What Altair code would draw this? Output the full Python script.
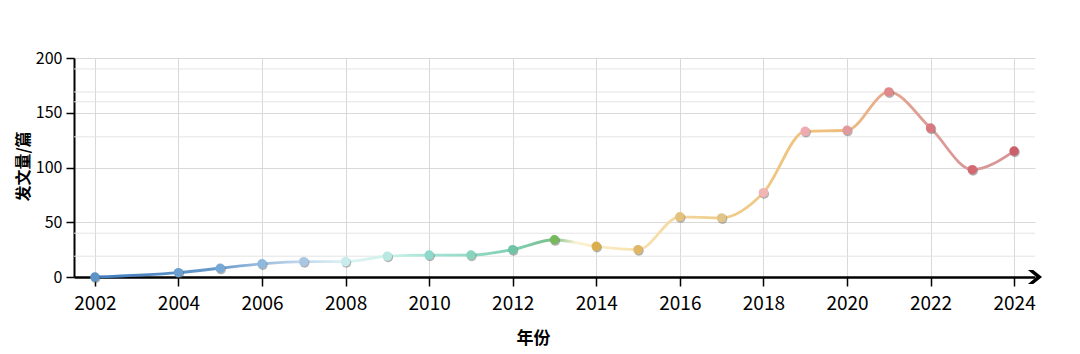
import altair as alt
import pandas as pd

years = [2002, 2004, 2005, 2006, 2007, 2008, 2009, 2010, 2011, 2012, 2013,
         2014, 2015, 2016, 2017, 2018, 2019, 2020, 2021, 2022, 2023, 2024]
counts = [0, 4, 8, 12, 14, 14, 19, 20, 20, 25, 34,
          28, 25, 55, 54, 77, 133, 134, 169, 136, 98, 115]
point_colors = ["#5b93c7", "#6a9fd0", "#77a9d6", "#8fb8de", "#a9c6e3", "#c8ecee",
                "#b8e8df", "#8fd8cc", "#88d4bc", "#6fc4a6", "#77b85c",
                "#d9ae4f", "#dfb766", "#e3c27e", "#e0c489", "#f2b5b5", "#eeaab0",
                "#e39a9f", "#e0888c", "#d9787e", "#d36a72", "#c9606a"]
x_ticks = [2002, 2004, 2006, 2008, 2010, 2012, 2014, 2016, 2018, 2020, 2022, 2024]
y_ticks = [0, 50, 100, 150, 200]
extra_grid = [190, 169, 160, 128, 40, 19]

line_stops = [
    (0.0, "#3f7cbf"), (0.136, "#6a9bcc"), (0.18, "#9bbde0"), (0.227, "#c5d8ec"),
    (0.273, "#daf3f3"), (0.318, "#d0f2ea"), (0.364, "#a5e3d5"), (0.455, "#7fcfb3"),
    (0.5, "#7cc08a"), (0.523, "#fbf1d2"), (0.591, "#f7e2b0"), (0.636, "#f5d6a0"),
    (0.682, "#f0cc8a"), (0.773, "#efc27a"), (0.818, "#eebd80"), (0.864, "#e4a890"),
    (0.909, "#dc9c98"), (1.0, "#d89496"),
]

df = pd.DataFrame({"year": years, "count": counts})
grid_df = pd.DataFrame({"v": extra_grid})

FONT = "Noto Sans CJK SC"
x_scale = alt.Scale(domain=[2001.5, 2024.5], nice=False, zero=False)
y_scale = alt.Scale(domain=[0, 200], nice=False)

x_axis = alt.Axis(values=x_ticks, format="d", title="年份", grid=True,
                  gridColor="#d9d9d9", gridWidth=1,
                  domainColor="#000", domainWidth=2.5, tickColor="#000", tickWidth=1.5,
                  tickSize=9, labelPadding=8, labelFont=FONT, labelFontSize=19,
                  labelColor="#000", titleFont=FONT, titleFontSize=17,
                  titleFontWeight="bold", titleColor="#000",
                  titleX=459, titleY=61, titleBaseline="middle", titleAnchor="start",
                  titleAlign="center", labelFlush=False)
y_axis = alt.Axis(values=y_ticks, title="发文量/篇", grid=True,
                  gridColor="#d9d9d9", gridWidth=1,
                  domainColor="#000", domainWidth=2, tickColor="#000", tickWidth=1.5,
                  tickSize=8, labelPadding=4, labelFont=FONT, labelFontSize=16,
                  labelColor="#000", titleFont=FONT, titleFontSize=16,
                  titleFontWeight="bold", titleColor="#000",
                  titleX=-51, titleY=108, titleAngle=-90, titleBaseline="middle",
                  titleAlign="center")

X = alt.X("year:Q", scale=x_scale, axis=x_axis)
Y = alt.Y("count:Q", scale=y_scale, axis=y_axis)

grid_layer = alt.Chart(grid_df).mark_rule(color="#e4e4e4", strokeWidth=1).encode(
    y=alt.Y("v:Q", scale=y_scale, axis=y_axis)
)

gradient = alt.Gradient(
    gradient="linear",
    stops=[alt.GradientStop(offset=o, color=c) for o, c in line_stops],
    x1=0, x2=1, y1=0, y2=0,
)

line = alt.Chart(df).mark_line(interpolate="monotone", strokeWidth=2.8,
                                stroke=gradient).encode(x=X, y=Y)

shadow = alt.Chart(df).mark_circle(size=95, color="#555555", opacity=0.45,
                                   xOffset=0.8, yOffset=1.2).encode(x=X, y=Y)

points = alt.Chart(df).mark_circle(size=90, opacity=1).encode(
    x=X, y=Y,
    color=alt.Color("year:O", scale=alt.Scale(domain=years, range=point_colors),
                    legend=None),
)

arrow_df = pd.DataFrame({"year": [2024.5], "count": [0]})
arrow = alt.Chart(arrow_df).mark_point(
    shape="M -1 -1 L -0.25 -1 L 1 0 L -0.25 1 L -1 1 L 0.2 0 Z", size=200,
    filled=True, color="#000", opacity=1, clip=False,
).encode(x=X, y=Y)

chart = alt.layer(grid_layer, line, shadow, points, arrow).properties(
    width=961, height=219,
    padding={"left": 74, "top": 58, "right": 45, "bottom": 77},
    autosize=alt.AutoSizeParams(type="none"),
    background="white",
).configure_view(stroke=None)

chart.save("out.html", embed_options={"renderer": "svg", "actions": False})
